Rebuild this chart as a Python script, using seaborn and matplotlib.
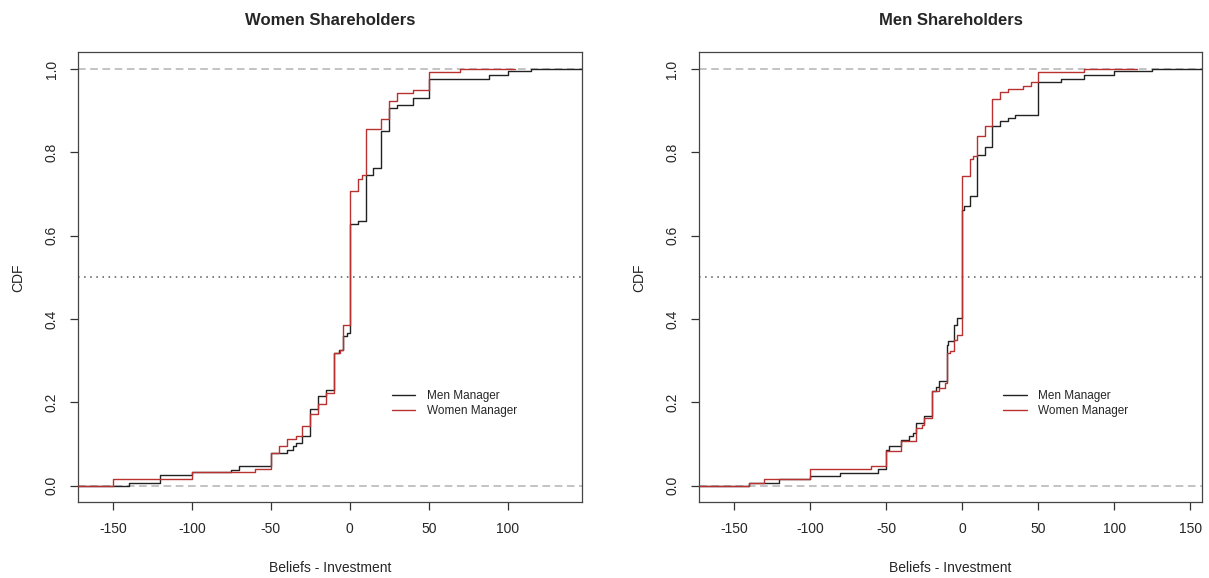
import numpy as np
import pandas as pd
import matplotlib
matplotlib.use("Agg")
import matplotlib.pyplot as plt
import seaborn as sns

# ECDF jump positions (Beliefs - Investment) and CDF level after each jump
# Panel 1: Women Shareholders
w_men_x = [-140, -120, -100, -75, -70, -50, -40, -36, -34, -30, -25, -20, -15, -10, -7, -4, -2, 0, 5, 10, 15, 20, 25, 30, 40, 50, 88, 100, 115]
w_men_y = [0.006, 0.025, 0.032, 0.038, 0.048, 0.079, 0.086, 0.094, 0.103, 0.118, 0.183, 0.214, 0.230, 0.318, 0.326, 0.358, 0.366, 0.627, 0.635, 0.745, 0.763, 0.850, 0.906, 0.914, 0.930, 0.977, 0.986, 0.994, 1.0]
w_wom_x = [-150, -100, -60, -50, -45, -40, -34, -30, -25, -20, -15, -10, -6.5, -4, 0, 5, 7.5, 10, 20, 25, 30, 40, 50, 70]
w_wom_y = [0.015, 0.032, 0.040, 0.078, 0.094, 0.111, 0.119, 0.144, 0.171, 0.195, 0.222, 0.318, 0.326, 0.386, 0.708, 0.735, 0.746, 0.855, 0.881, 0.923, 0.942, 0.950, 0.992, 1.0]

# Panel 2: Men Shareholders
m_men_x = [-140, -120, -100, -80, -55, -50, -48, -40, -35, -32, -30, -25, -20, -17, -15, -10, -9, -5, -3, 0, 1, 5, 10, 15, 20, 25, 30, 35, 50, 65, 80, 100, 125]
m_men_y = [0.006, 0.015, 0.022, 0.030, 0.039, 0.086, 0.094, 0.110, 0.118, 0.126, 0.150, 0.166, 0.226, 0.236, 0.252, 0.338, 0.347, 0.386, 0.402, 0.662, 0.670, 0.694, 0.794, 0.812, 0.864, 0.874, 0.882, 0.890, 0.968, 0.976, 0.986, 0.994, 1.0]
m_wom_x = [-140, -130, -100, -60, -50, -40, -30, -26, -25, -20, -15, -11, -10, -8, -5, -3, 0, 5, 7.5, 10, 15, 20, 25, 30, 40, 45, 50, 80]
m_wom_y = [0.007, 0.015, 0.039, 0.047, 0.082, 0.106, 0.138, 0.146, 0.162, 0.226, 0.234, 0.246, 0.318, 0.324, 0.350, 0.362, 0.742, 0.783, 0.791, 0.839, 0.862, 0.927, 0.944, 0.951, 0.959, 0.968, 0.992, 1.0]

panels = [
    ("Women Shareholders", w_men_x, w_men_y, w_wom_x, w_wom_y, (-172, 147), [-150, -100, -50, 0, 50, 100], 105),
    ("Men Shareholders", m_men_x, m_men_y, m_wom_x, m_wom_y, (-173, 158), [-150, -100, -50, 0, 50, 100, 150], 115),
]

sns.set_style("white")
plt.rcParams["font.family"] = ["Liberation Sans", "DejaVu Sans"]
plt.rcParams["axes.unicode_minus"] = False

fig = plt.figure(figsize=(12.09, 5.78), dpi=100)
positions = [[0.0648, 0.131, 0.4164, 0.7785], [0.578, 0.131, 0.4166, 0.7785]]
colors = {"Men Manager": "#222222", "Women Manager": "#b83232"}

for pos, (title, mx, my, wx, wy, xlim, xticks, wend) in zip(positions, panels):
    ax = fig.add_axes(pos)
    # build step series: start at left edge at 0, end at right edge / last point
    men = pd.DataFrame({"x": [xlim[0]] + mx + [xlim[1]], "y": [0.0] + my + [my[-1]]})
    men["Manager"] = "Men Manager"
    wom = pd.DataFrame({"x": [xlim[0]] + wx + [wend], "y": [0.0] + wy + [wy[-1]]})
    wom["Manager"] = "Women Manager"
    df = pd.concat([men, wom], ignore_index=True)

    ax.axhline(0, color="#b3b3b3", lw=1.1, ls=(0, (5, 3)), zorder=1)
    ax.axhline(1, color="#b3b3b3", lw=1.1, ls=(0, (5, 3)), zorder=1)
    ax.axhline(0.5, color="#555555", lw=1.1, ls=(0, (1, 3)), zorder=1)

    sns.lineplot(data=df, x="x", y="y", hue="Manager", palette=colors,
                 drawstyle="steps-post", sort=False, estimator=None,
                 lw=1.0, ax=ax, zorder=3)

    ax.set_xlim(*xlim)
    ax.set_ylim(-0.04, 1.04)
    ax.set_xticks(xticks)
    ax.set_yticks([0, 0.2, 0.4, 0.6, 0.8, 1.0])
    ax.set_yticklabels(["0.0", "0.2", "0.4", "0.6", "0.8", "1.0"], rotation=90, va="center")
    ax.tick_params(axis="both", direction="out", length=6, width=0.9, color="#333333",
                   labelsize=10, pad=8, left=True, bottom=True)
    for s in ax.spines.values():
        s.set_color("#444444")
        s.set_linewidth(0.9)
    ax.set_title(title, fontsize=12, fontweight="bold", pad=20)
    ax.set_xlabel("Beliefs - Investment", fontsize=10, labelpad=18)
    ax.set_ylabel("CDF", fontsize=10, labelpad=14)

    leg_x = 0.6226 if title.startswith("Women") else 0.604
    ax.legend(loc="center left", bbox_to_anchor=(leg_x, 0.219), frameon=False,
              fontsize=8.5, handlelength=2.0, handletextpad=1.0, labelspacing=0.25,
              borderpad=0, borderaxespad=0, title=None)

fig.savefig("out.png", dpi=100)
